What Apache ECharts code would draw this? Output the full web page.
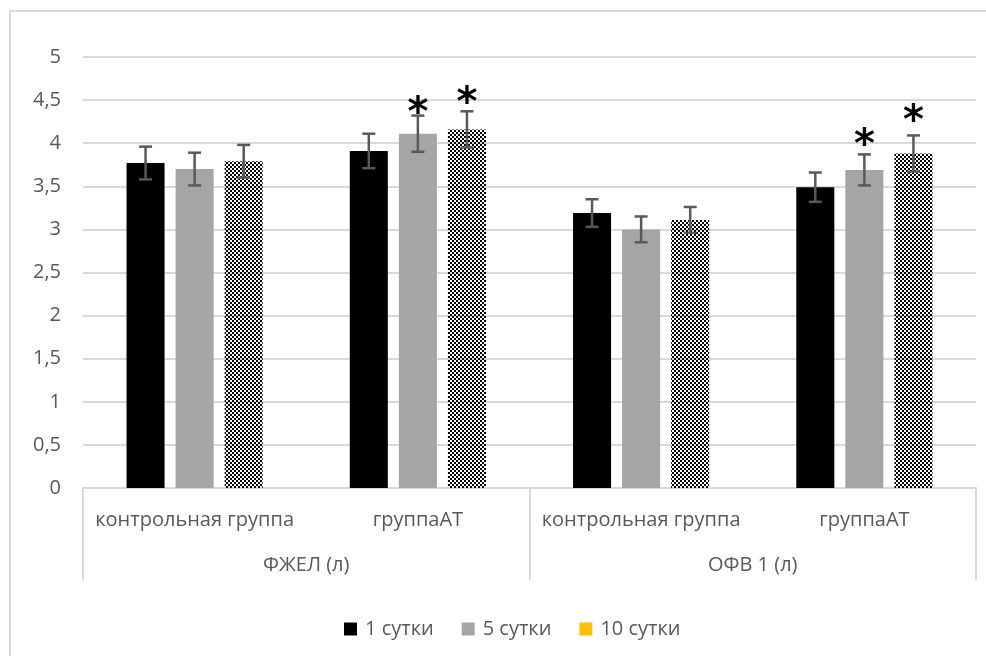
<!DOCTYPE html>
<html>
<head>
<meta charset="utf-8">
<script src="https://cdn.jsdelivr.net/npm/echarts@6/dist/echarts.min.js"></script>
<style>
  html, body { margin: 0; padding: 0; background: #ffffff; }
  #chart { width: 986px; height: 656px; }
</style>
</head>
<body>
<div id="chart"></div>
<script>
// Sub-categories on the first axis row, measure groups on the second row
const categories = ['контрольная группа', 'группаАТ', 'контрольная группа', 'группаАТ'];
const groups = ['ФЖЕЛ (л)', 'ОФВ 1 (л)'];
const seriesNames = ['1 сутки', '5 сутки', '10 сутки'];

// Mean values (litres)
const day1 = [3.77, 3.91, 3.19, 3.49];
const day5 = [3.70, 4.11, 3.00, 3.69];
const day10 = [3.79, 4.16, 3.11, 3.88];

// Error bar half-widths
const err1 = [0.19, 0.20, 0.16, 0.17];
const err5 = [0.19, 0.21, 0.15, 0.18];
const err10 = [0.19, 0.21, 0.15, 0.21];

// Significance markers (asterisk heights), null = no marker
const star5 = [null, 4.45, null, 4.08];
const star10 = [null, 4.56, null, 4.35];

// Value axis
const yMin = 0, yMax = 5, yStep = 0.5;

const FONT = 'Open Sans';
const FONT_SIZE = 20;
const TEXT_COLOR = '#595959';
const LINE_COLOR = '#d9d9d9';
const BAR_CATEGORY_GAP = 0.39;
const BAR_GAP = 0.29;

// Checkered fill for the third series
function makePattern() {
  const c = document.createElement('canvas');
  c.width = 4; c.height = 4;
  const ctx = c.getContext('2d');
  ctx.fillStyle = '#000000';
  ctx.fillRect(0, 0, 2, 2);
  ctx.fillRect(2, 2, 2, 2);
  return c;
}

// Horizontal offset of bar series idx inside its category band
function barOffset(api, idx) {
  const band = api.size([1, 0])[0];
  const w = band * (1 - BAR_CATEGORY_GAP) / (3 + 2 * BAR_GAP);
  return (idx - 1) * w * (1 + BAR_GAP);
}

function errorSeries(idx, values, errs) {
  return {
    type: 'custom',
    z: 5,
    silent: true,
    data: values.map((v, i) => [i, v, errs[i]]),
    encode: { x: 0, y: 1 },
    renderItem: function (params, api) {
      const i = api.value(0), v = api.value(1), e = api.value(2);
      const off = barOffset(api, idx);
      const top = api.coord([i, v + e]);
      const bot = api.coord([i, v - e]);
      const x = top[0] + off;
      const hw = 6.5;
      const st = { stroke: '#595959', lineWidth: 2.5 };
      return {
        type: 'group',
        children: [
          { type: 'line', shape: { x1: x, y1: top[1], x2: x, y2: bot[1] }, style: st },
          { type: 'line', shape: { x1: x - hw, y1: top[1], x2: x + hw, y2: top[1] }, style: st },
          { type: 'line', shape: { x1: x - hw, y1: bot[1], x2: x + hw, y2: bot[1] }, style: st }
        ]
      };
    }
  };
}

function starSeries(idx, stars) {
  const data = [];
  stars.forEach((s, i) => { if (s !== null) data.push([i, s]); });
  return {
    type: 'custom',
    z: 6,
    silent: true,
    data: data,
    encode: { x: 0, y: 1 },
    renderItem: function (params, api) {
      const p = api.coord([api.value(0), api.value(1)]);
      return {
        type: 'text',
        x: p[0] + barOffset(api, idx),
        y: p[1] + 10,
        style: {
          text: '*',
          fontSize: 40,
          fontFamily: 'DejaVu Sans',
          fontWeight: 'bold',
          fill: '#000000',
          align: 'center',
          verticalAlign: 'middle'
        }
      };
    }
  };
}

const chart = echarts.init(document.getElementById('chart'), null, { renderer: 'canvas' });

const labelStyle = { color: TEXT_COLOR, fontFamily: FONT, fontSize: FONT_SIZE };

chart.setOption({
  animation: false,
  backgroundColor: '#ffffff',
  graphic: [{
    type: 'rect',
    shape: { x: 10, y: 11, width: 1000, height: 700 },
    style: { fill: 'none', stroke: LINE_COLOR, lineWidth: 2 },
    silent: true
  }],
  grid: { left: 83, right: 10, top: 57, bottom: 168 },
  legend: {
    top: 614,
    left: 339,
    icon: 'rect',
    itemWidth: 13,
    itemHeight: 13,
    itemGap: 28,
    textStyle: { color: TEXT_COLOR, fontFamily: FONT, fontSize: FONT_SIZE, padding: [0, 0, 0, 3] },
    data: [
      { name: seriesNames[0] },
      { name: seriesNames[1] },
      { name: seriesNames[2], itemStyle: { color: '#ffc000' } }
    ]
  },
  xAxis: [
    {
      type: 'category',
      data: categories,
      axisLine: { show: true, lineStyle: { color: LINE_COLOR, width: 2 } },
      axisTick: { show: false },
      axisLabel: Object.assign({ margin: 22, interval: 0 }, labelStyle)
    },
    {
      type: 'category',
      data: groups,
      position: 'bottom',
      axisLine: { show: false },
      axisTick: { show: true, length: 92, lineStyle: { color: LINE_COLOR, width: 2 } },
      axisLabel: Object.assign({ margin: 67, interval: 0 }, labelStyle),
      splitLine: { show: false }
    }
  ],
  yAxis: {
    type: 'value',
    min: yMin,
    max: yMax,
    interval: yStep,
    axisLine: { show: false },
    axisTick: { show: false },
    splitLine: { lineStyle: { color: LINE_COLOR, width: 2 } },
    axisLabel: Object.assign({
      margin: 22,
      formatter: v => String(v).replace('.', ',')
    }, labelStyle)
  },
  series: [
    {
      name: seriesNames[0], type: 'bar', data: day1,
      barCategoryGap: (BAR_CATEGORY_GAP * 100) + '%', barGap: (BAR_GAP * 100) + '%',
      itemStyle: { color: '#000000' }
    },
    {
      name: seriesNames[1], type: 'bar', data: day5,
      barCategoryGap: (BAR_CATEGORY_GAP * 100) + '%', barGap: (BAR_GAP * 100) + '%',
      itemStyle: { color: '#a5a5a5' }
    },
    {
      name: seriesNames[2], type: 'bar', data: day10,
      barCategoryGap: (BAR_CATEGORY_GAP * 100) + '%', barGap: (BAR_GAP * 100) + '%',
      itemStyle: { color: { image: makePattern(), repeat: 'repeat' } }
    },
    errorSeries(0, day1, err1),
    errorSeries(1, day5, err5),
    errorSeries(2, day10, err10),
    starSeries(1, star5),
    starSeries(2, star10)
  ]
});
</script>
</body>
</html>
